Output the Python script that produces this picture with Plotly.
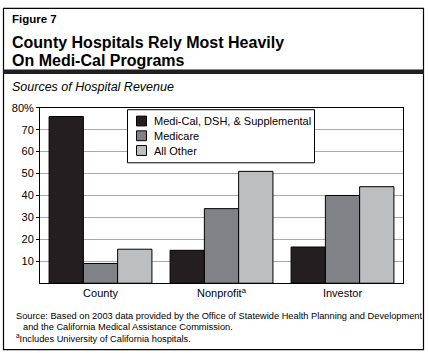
import plotly.graph_objects as go

W, H = 429, 353

categories = ["County", "Nonprofit<sup>a</sup>", "Investor"]
series_names = ["Medi-Cal, DSH, & Supplemental", "Medicare", "All Other"]
medi_cal = [76, 15, 16.5]
medicare = [9, 34, 40]
all_other = [15.5, 51, 44]
series_values = [medi_cal, medicare, all_other]
series_colors = ["#231f20", "#808285", "#bcbec0"]
tick_vals = [10, 20, 30, 40, 50, 60, 70, 80]
tick_text = ["10", "20", "30", "40", "50", "60", "70", "80%"]

FONT = "Liberation Sans, Arial, sans-serif"


def px(x):
    return x / W


def py(y):
    return 1 - y / H


fig = go.Figure()
for name, vals, col in zip(series_names, series_values, series_colors):
    fig.add_trace(go.Bar(
        x=categories, y=vals, name=name,
        marker=dict(color=col, line=dict(color="#000000", width=1)),
    ))

shapes = [
    dict(type="rect", xref="paper", yref="paper",
         x0=px(3.5), x1=px(423.5), y0=py(349.5), y1=py(2.5),
         line=dict(color="#000000", width=1.2)),
    dict(type="line", xref="paper", yref="paper",
         x0=px(3), x1=px(424), y0=py(67), y1=py(67),
         line=dict(color="#231f20", width=4.5)),
    # legend box
    dict(type="rect", xref="paper", yref="paper",
         x0=px(127.5), x1=px(314.5), y0=py(159.5), y1=py(105.5),
         fillcolor="white", line=dict(color="#000000", width=1), layer="above"),
]
annotations = [
    dict(text="<b>Figure 7</b>", x=px(10), y=py(13), xref="paper", yref="paper",
         xanchor="left", yanchor="middle", showarrow=False, font=dict(size=11.5)),
    dict(text="<b>County Hospitals Rely Most Heavily</b>", x=px(10), y=py(37),
         xref="paper", yref="paper", xanchor="left", yanchor="middle",
         showarrow=False, font=dict(size=16)),
    dict(text="<b>On Medi-Cal Programs</b>", x=px(10), y=py(55),
         xref="paper", yref="paper", xanchor="left", yanchor="middle",
         showarrow=False, font=dict(size=16)),
    dict(text="<i>Sources of Hospital Revenue</i>", x=px(10), y=py(82),
         xref="paper", yref="paper", xanchor="left", yanchor="middle",
         showarrow=False, font=dict(size=12.5)),
    dict(text="Source: Based on 2003 data provided by the Office of Statewide Health Planning and Development",
         x=px(14), y=py(315), xref="paper", yref="paper", xanchor="left", yanchor="middle",
         showarrow=False, font=dict(size=9.25)),
    dict(text="and the California Medical Assistance Commission.",
         x=px(21), y=py(326.5), xref="paper", yref="paper", xanchor="left", yanchor="middle",
         showarrow=False, font=dict(size=9.25)),
    dict(text="<sup>a</sup>Includes University of California hospitals.",
         x=px(14), y=py(337.5), xref="paper", yref="paper", xanchor="left", yanchor="middle",
         showarrow=False, font=dict(size=9.25)),
]

# legend entries (drawn from series_names / series_colors)
row_y = [117, 132, 147]
for name, col, ry in zip(series_names, series_colors, row_y):
    shapes.append(dict(type="rect", xref="paper", yref="paper",
                       x0=px(136.5), x1=px(146.5), y0=py(ry + 5), y1=py(ry - 5),
                       fillcolor=col, line=dict(color="#000000", width=1), layer="above"))
    annotations.append(dict(text=name, x=px(152), y=py(ry), xref="paper", yref="paper",
                            xanchor="left", yanchor="middle", showarrow=False,
                            font=dict(size=11)))

fig.update_layout(
    width=W, height=H,
    margin=dict(l=0, r=0, t=0, b=0),
    paper_bgcolor="white", plot_bgcolor="white",
    barmode="group", bargap=0.15, bargroupgap=0,
    font=dict(family=FONT, color="#000000", size=11),
    showlegend=False,
    xaxis=dict(
        domain=[px(40), px(403)],
        showline=True, linecolor="#000000", linewidth=1, mirror=True,
        ticks="", tickfont=dict(size=11), showgrid=False,
    ),
    yaxis=dict(
        domain=[py(282), py(103.5)],
        range=[0, 80], tickvals=tick_vals, ticktext=tick_text,
        showline=True, linecolor="#000000", linewidth=1, mirror=True,
        ticks="outside", ticklen=3, tickcolor="#000000",
        showgrid=True, gridcolor="#a7a9ac", gridwidth=1,
        zeroline=False, tickfont=dict(size=11),
    ),
    shapes=shapes,
    annotations=annotations,
)

fig.write_html("out.html")
